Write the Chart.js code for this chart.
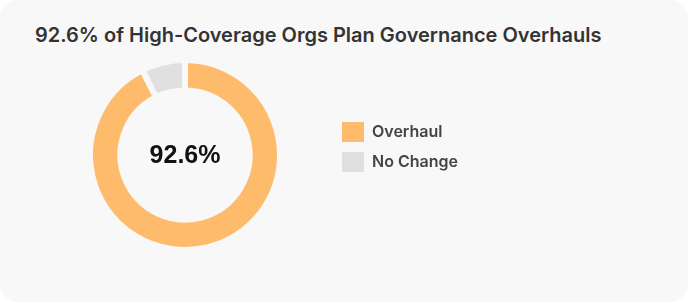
<!DOCTYPE html>
<html>
<head>
<meta charset="utf-8">
<script src="https://cdn.jsdelivr.net/npm/chart.js@4.4.1/dist/chart.umd.min.js"></script>
<style>
  html, body { margin: 0; padding: 0; background: #ffffff; }
  .card {
    position: relative;
    width: 688px;
    height: 302px;
    background: #f8f8f8;
    border-radius: 18px;
    font-family: Inter, sans-serif;
  }
  .card h2 {
    position: absolute;
    left: 35px;
    top: 23px;
    margin: 0;
    font-size: 20px;
    line-height: 24px;
    font-weight: 600;
    color: #333333;
  }
  .chart-box {
    position: absolute;
    left: 43px;
    top: 57px;
    width: 420px;
    height: 196px;
  }
</style>
</head>
<body>
<div class="card">
  <h2>92.6% of High-Coverage Orgs Plan Governance Overhauls</h2>
  <div class="chart-box"><canvas id="grafico"></canvas></div>
</div>
<script>
  const categorias = ['Overhaul', 'No Change'];
  const valores = [92.6, 7.4];
  const cores = ['#ffbb6c', '#e0e0e0'];
  const textoCentro = '92.6%';

  const centerTextPlugin = {
    id: 'centerText',
    afterDatasetDraw(chart) {
      const { ctx, chartArea } = chart;
      ctx.save();
      ctx.font = 'bold 25px "Liberation Sans", Arial, sans-serif';
      ctx.fillStyle = '#111111';
      ctx.textAlign = 'center';
      ctx.textBaseline = 'alphabetic';
      ctx.fillText(textoCentro, (chartArea.left + chartArea.right) / 2, (chartArea.top + chartArea.bottom) / 2 + 8);
      ctx.restore();
    }
  };

  // nudge the legend to sit where the original has it
  const legendPosPlugin = {
    id: 'legendPos',
    afterLayout(chart) {
      const lg = chart.legend;
      if (!lg) return;
      const dx = 289 - lg.left;
      lg.left += dx;
      lg.right += dx;
      lg.top -= 8;
      lg.bottom -= 8;
    }
  };

  new Chart(document.getElementById('grafico'), {
    type: 'doughnut',
    data: {
      labels: categorias,
      datasets: [{
        data: valores,
        backgroundColor: cores,
        borderColor: '#f8f8f8',
        borderWidth: 6,
        hoverOffset: 0
      }]
    },
    options: {
      responsive: true,
      maintainAspectRatio: false,
      animation: false,
      cutout: '68%',
      layout: { padding: 0 },
      plugins: {
        legend: {
          position: 'right',
          align: 'center',
          labels: {
            boxWidth: 22,
            boxHeight: 20,
            padding: 10,
            color: '#444444',
            font: { family: 'Inter, sans-serif', size: 16, weight: '600' },
            generateLabels(chart) {
              const itens = Chart.overrides.doughnut.plugins.legend.labels.generateLabels(chart);
              itens.forEach(i => { i.lineWidth = 0; });
              return itens;
            }
          }
        },
        tooltip: { enabled: false }
      }
    },
    plugins: [centerTextPlugin, legendPosPlugin]
  });
</script>
</body>
</html>
